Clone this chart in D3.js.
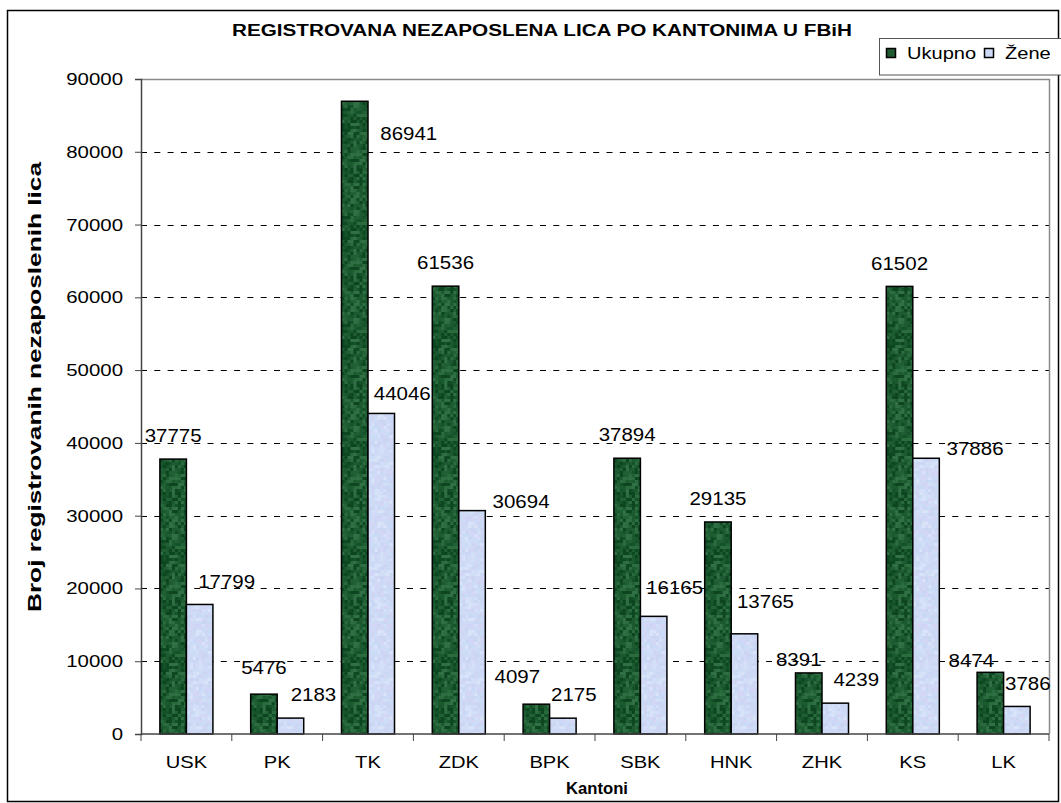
<html>
<head>
<meta charset="utf-8">
<script src="https://d3js.org/d3.v7.min.js"></script>
<style>
  body { margin: 0; background: #fff; }
  text { font-family: "Liberation Sans", Arial, sans-serif; }
</style>
</head>
<body>
<svg id="chart"></svg>
<script>
// kantoni i vrijednosti
var kantoni = ["USK", "PK", "TK", "ZDK", "BPK", "SBK", "HNK", "ZHK", "KS", "LK"]
var ukupno = [37775, 5476, 86941, 61536, 4097, 37894, 29135, 8391, 61502, 8474]
var zene = [17799, 2183, 44046, 30694, 2175, 16165, 13765, 4239, 37886, 3786]
var serije = ["Ukupno", "Žene"]
var yTicks = [0, 10000, 20000, 30000, 40000, 50000, 60000, 70000, 80000, 90000]

// rucno pomjerene oznake (px) - kao u originalu
var pomakU = [[0,0],[0,-3],[54,56],[0,0],[-19,-4],[0,0],[0,0],[-10,10],[0,0],[-19,12]]
var pomakZ = [[6,0],[2,0],[0,3],[28,14],[-10,0],[0,-5],[0,-9],[0,0],[28,14],[-10,0]]

var width = 1061, height = 803
var m = {left: 141, right: 1049, top: 79, bottom: 734}

var svg = d3.select("#chart").attr("width", width).attr("height", height)

// texture for bars (mottled, like the excel fill)
var defs = svg.append("defs")
function texture(id, cols) {
  var n = 12, c = 3
  var p = defs.append("pattern").attr("id", id).attr("patternUnits", "userSpaceOnUse")
    .attr("width", n * c).attr("height", n * 3 * c)
  for (var i = 0; i < n; i++) {
    for (var j = 0; j < n * 3; j++) {
      var h = Math.abs(Math.sin(i * 12.9898 + j * 78.233) * 43758.5453) % 1
      var k = Math.floor(h * cols.length)
      p.append("rect").attr("x", i * c).attr("y", j * c).attr("width", c).attr("height", c).attr("fill", cols[k])
    }
  }
}
texture("zelena", ["#0c4520", "#145229", "#1a5a2e", "#215f34", "#2a6c3e", "#1d5a31", "#316f45", "#0f4924"])
texture("plava", ["#cfdcf6", "#d4e0f8", "#cad5f4", "#d3d6f5", "#c9dbf6", "#d9e4f9", "#ccd7f3", "#d0daf6"])

// stretch text horizontally like the original
function stretch(sel, f) {
  sel.each(function() {
    var w = this.getComputedTextLength()
    d3.select(this).attr("textLength", w * f).attr("lengthAdjust", "spacingAndGlyphs")
  })
}

// outer frame
svg.append("rect").attr("x", 7.5).attr("y", 10.5).attr("width", 1051).attr("height", 791)
  .attr("fill", "none").attr("stroke", "#000").attr("stroke-width", 1.5)

var x = d3.scaleBand().domain(kantoni).range([m.left, m.right]).paddingInner(0.416).paddingOuter(0.208)
var x1 = d3.scaleBand().domain(serije).range([0, x.bandwidth()])
var y = d3.scaleLinear().domain([0, 90000]).range([m.bottom, m.top])

// grid
svg.append("g").selectAll("line").data(yTicks.filter(d => d > 0 && d < 90000)).join("line")
  .attr("x1", m.left).attr("x2", m.right)
  .attr("y1", d => Math.round(y(d)) + 0.5).attr("y2", d => Math.round(y(d)) + 0.5)
  .attr("stroke", "#000").attr("stroke-dasharray", "6,7.3")

// plot border (top/right gray)
svg.append("path")
  .attr("d", `M${m.left},${m.top + 0.5}H${m.right + 0.5}V${m.bottom}`)
  .attr("fill", "none").attr("stroke", "#8a8a8a").attr("stroke-width", 1.5)

// bars
var podaci = kantoni.map((k, i) => ({k: k, vals: [
  {s: "Ukupno", v: ukupno[i], p: pomakU[i]},
  {s: "Žene", v: zene[i], p: pomakZ[i]}]}))

var grupa = svg.append("g").selectAll("g").data(podaci).join("g")
  .attr("transform", d => `translate(${x(d.k)},0)`)

grupa.selectAll("rect").data(d => d.vals).join("rect")
  .attr("x", d => x1(d.s))
  .attr("y", d => y(d.v))
  .attr("width", x1.bandwidth())
  .attr("height", d => y(0) - y(d.v))
  .attr("fill", d => d.s == "Ukupno" ? "url(#zelena)" : "url(#plava)")
  .attr("stroke", "#000").attr("stroke-width", 1.5)

// value labels
grupa.selectAll("text").data(d => d.vals).join("text")
  .attr("x", d => x1(d.s) + x1.bandwidth() / 2 + (d.s == "Žene" ? 21 : 0) + d.p[0])
  .attr("y", d => y(d.v) - 23 + d.p[1])
  .attr("dy", "0.35em")
  .attr("text-anchor", "middle")
  .attr("font-size", 17.5)
  .text(d => d.v)
  .call(stretch, 1.17)

// axes
var yAxis = svg.append("g").attr("transform", `translate(${m.left},0)`)
  .call(d3.axisLeft(y).tickValues(yTicks).tickSize(6).tickPadding(12).tickFormat(d3.format("d")))
yAxis.select(".domain").attr("stroke", "#444").attr("stroke-width", 1.5)
yAxis.selectAll("line").attr("stroke", "#444")
yAxis.selectAll("text").attr("font-size", 17).attr("fill", "#000").attr("font-family", "Liberation Sans")
  .call(stretch, 1.2)

var xAxis = svg.append("g").attr("transform", `translate(0,${m.bottom})`)
xAxis.append("line").attr("x1", m.left).attr("x2", m.right).attr("stroke", "#444").attr("stroke-width", 1.5)
xAxis.selectAll(".tk").data(d3.range(kantoni.length + 1)).join("line")
  .attr("x1", i => m.left + x.step() * i).attr("x2", i => m.left + x.step() * i)
  .attr("y1", 0).attr("y2", 7).attr("stroke", "#444")
xAxis.selectAll(".lbl").data(kantoni).join("text")
  .attr("x", d => x(d) + x.bandwidth() / 2).attr("y", 28).attr("dy", "0.35em")
  .attr("text-anchor", "middle").attr("font-size", 16.5)
  .text(d => d)
  .call(stretch, 1.22)

// titles
svg.append("text").attr("x", 542).attr("y", 30).attr("dy", "0.35em").attr("text-anchor", "middle")
  .attr("font-size", 16).attr("font-weight", "bold")
  .attr("textLength", 620).attr("lengthAdjust", "spacingAndGlyphs")
  .text("REGISTROVANA NEZAPOSLENA LICA PO KANTONIMA U FBiH")

svg.append("text").attr("transform", "translate(35,387) rotate(-90)").attr("dy", "0.35em")
  .attr("text-anchor", "middle").attr("font-size", 17.5).attr("font-weight", "bold")
  .attr("textLength", 450).attr("lengthAdjust", "spacingAndGlyphs")
  .text("Broj registrovanih nezaposlenih lica")

svg.append("text").attr("x", 597).attr("y", 788).attr("dy", "0.35em").attr("text-anchor", "middle")
  .attr("font-size", 17).attr("font-weight", "bold")
  .attr("textLength", 62).attr("lengthAdjust", "spacingAndGlyphs")
  .text("Kantoni")

// legend
var leg = svg.append("g")
leg.append("rect").attr("x", 879.5).attr("y", 38.5).attr("width", 190).attr("height", 36.5)
  .attr("fill", "#fff").attr("stroke", "#555")
var legX = [886, 984]
serije.forEach(function(s, i) {
  leg.append("rect").attr("x", legX[i] + 0.5).attr("y", 48.5).attr("width", 9).attr("height", 9)
    .attr("fill", i == 0 ? "#1f5a30" : "#cddaf6").attr("stroke", "#000").attr("stroke-width", 1.5)
  leg.append("text").attr("x", legX[i] + 21).attr("y", 53).attr("dy", "0.35em")
    .attr("font-size", 17).text(s).call(stretch, 1.18)
})
</script>
</body>
</html>
